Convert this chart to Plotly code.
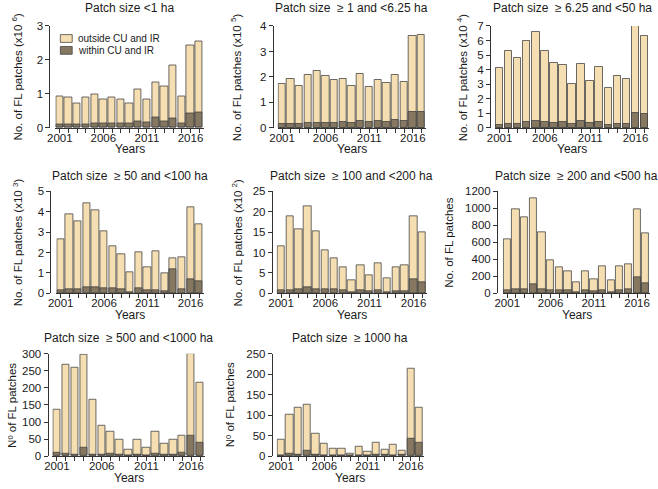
import plotly.graph_objects as go

W, H = 658, 489

years = list(range(2001, 2018))

# Panel 1: < 1 ha (x10^6)
p1_total = [0.92, 0.90, 0.71, 0.90, 0.99, 0.83, 0.88, 0.83, 0.72, 1.13, 0.84, 1.33, 1.22, 1.82, 0.92, 2.42, 2.53]
p1_within = [0.11, 0.11, 0.10, 0.11, 0.12, 0.12, 0.13, 0.13, 0.13, 0.19, 0.16, 0.30, 0.19, 0.29, 0.14, 0.43, 0.45]
# Panel 2: >=1 and <6.25 ha (x10^5)
p2_total = [1.72, 1.92, 1.66, 2.08, 2.24, 2.02, 1.89, 1.93, 1.65, 2.13, 1.60, 1.90, 1.78, 2.06, 1.80, 3.60, 3.64]
p2_within = [0.14, 0.16, 0.14, 0.18, 0.19, 0.19, 0.21, 0.22, 0.19, 0.27, 0.22, 0.26, 0.25, 0.30, 0.27, 0.64, 0.64]
# Panel 3: >=6.25 and <50 ha (x10^4)
p3_total = [4.14, 5.26, 4.77, 5.95, 6.60, 5.30, 4.47, 4.32, 3.02, 4.38, 3.20, 4.18, 2.71, 3.60, 3.38, 7.00, 6.33]
p3_within = [0.20, 0.25, 0.25, 0.38, 0.45, 0.38, 0.35, 0.40, 0.25, 0.45, 0.32, 0.38, 0.22, 0.30, 0.30, 1.05, 0.95]
# Panel 4: >=50 and <100 ha (x10^3)
p4_total = [2.65, 3.87, 3.51, 4.42, 4.07, 3.05, 2.30, 1.92, 1.04, 2.00, 1.25, 2.08, 1.00, 1.72, 1.75, 4.22, 3.40]
p4_within = [0.15, 0.18, 0.20, 0.30, 0.28, 0.25, 0.25, 0.20, 0.06, 0.25, 0.12, 0.15, 0.08, 1.15, 0.20, 0.68, 0.58]
# Panel 5: >=100 and <200 ha (x10^2)
p5_total = [11.4, 18.9, 15.8, 21.3, 15.2, 10.5, 8.6, 6.4, 3.2, 6.9, 4.3, 7.4, 3.6, 6.3, 6.9, 18.9, 15.0]
p5_within = [0.7, 0.7, 0.9, 1.4, 1.0, 0.9, 0.9, 0.7, 0.3, 0.7, 0.4, 0.7, 0.3, 0.5, 0.5, 3.5, 2.6]
# Panel 6: >=200 and <500 ha
p6_total = [630, 993, 894, 1123, 722, 390, 310, 256, 130, 256, 164, 321, 153, 321, 336, 986, 703]
p6_within = [40, 45, 45, 100, 45, 35, 35, 35, 12, 35, 20, 35, 15, 40, 45, 185, 120]
# Panel 7: >=500 and <1000 ha
p7_total = [137, 268, 258, 296, 165, 90, 73, 49, 20, 49, 26, 73, 35, 49, 60, 300, 214]
p7_within = [9, 6, 3, 26, 5, 3, 8, 3, 1, 5, 2, 8, 3, 3, 11, 60, 38]
# Panel 8: >=1000 ha
p8_total = [40, 102, 117, 125, 55, 31, 19, 18, 5, 23, 10, 32, 15, 27, 13, 213, 117]
p8_within = [1, 7, 3, 13, 4, 1, 1, 1, 0, 1, 1, 4, 3, 1, 4, 42, 32]

legend_labels = ["outside CU and IR", "within CU and IR"]

titles = [
    "Patch size &lt;1 ha",
    "Patch size  \u2265 1 and &lt;6.25 ha",
    "Patch size  \u2265 6.25 and &lt;50 ha",
    "Patch size  \u2265 50 and &lt;100 ha",
    "Patch size  \u2265 100 and &lt;200 ha",
    "Patch size  \u2265 200 and &lt;500 ha",
    "Patch size  \u2265 500 and &lt;1000 ha",
    "Patch size  \u2265 1000 ha",
]
ytitles = [
    "No. of FL patches (x10 <sup>6</sup>)",
    "No. of FL patches (x10 <sup>5</sup>)",
    "No. of FL patches (x10 <sup>4</sup>)",
    "No. of FL patches (x10 <sup>3</sup>)",
    "No. of FL patches (x10 <sup>2</sup>)",
    "No. of FL patches",
    "N\u00ba of FL patches",
    "N\u00ba of FL patches",
]
ymax = [3, 4, 7, 5, 25, 1200, 300, 250]
ydtick = [1, 1, 1, 1, 5, 200, 50, 50]
totals = [p1_total, p2_total, p3_total, p4_total, p5_total, p6_total, p7_total, p8_total]
withins = [p1_within, p2_within, p3_within, p4_within, p5_within, p6_within, p7_within, p8_within]

# layout geometry in pixels: (y-axis x, bars x0, bars x1, y of 0, y of top, ytitle x, title offset)
geom = [
    (42, 48, 198, 125, 20, 9, 18),
    (268, 273, 423, 125, 20.5, 231, 18),
    (488, 493, 649, 125, 20.5, 460, 18),
    (43, 49, 198, 294.5, 190, 10, 16),
    (267, 272, 424, 294.5, 190, 232, 16),
    (495, 501, 650, 294.5, 190, 447, 16),
    (40, 45, 199, 461.5, 356.5, 4, 16),
    (267, 272, 421, 461.5, 356.5, 225, 16),
]

LIGHT = "rgb(245,222,178)"
DARK = "rgb(134,120,96)"
EDGE = "rgba(60,60,60,0.75)"
FONT = "Arial, Liberation Sans, sans-serif"
TXT = "#1a1a1a"
FS = 12
TFS = 11.5

fig = go.Figure()
annotations = []
shapes = []
for i in range(8):
    ax = "" if i == 0 else str(i + 1)
    xa, x0, x1, y0, y1, ytx, toff = geom[i]
    fig.add_trace(go.Bar(
        x=years, y=totals[i], name=legend_labels[0], width=0.83,
        marker=dict(color=LIGHT, line=dict(color=EDGE, width=1)),
        xaxis="x" + ax, yaxis="y" + ax, showlegend=False,
    ))
    fig.add_trace(go.Bar(
        x=years, y=withins[i], name=legend_labels[1], width=0.83,
        marker=dict(color=DARK, line=dict(color=EDGE, width=1)),
        xaxis="x" + ax, yaxis="y" + ax, showlegend=False,
    ))
    fig.layout["xaxis" + ax] = dict(
        domain=[x0 / W, x1 / W], range=[2000.5, 2017.5], anchor="y" + ax,
        tick0=2001, dtick=5, ticks="outside", ticklen=4, tickcolor="#333",
        minor=dict(dtick=1, tick0=2001, ticks="outside", ticklen=4, tickcolor="#333"),
        showline=True, linecolor="#333", ticklabelstandoff=-5,
        showgrid=False, zeroline=False, tickfont=dict(size=TFS, color=TXT, family=FONT),
        fixedrange=True,
    )
    fig.layout["yaxis" + ax] = dict(
        domain=[1 - y0 / H, 1 - y1 / H], range=[0, ymax[i]], anchor="free", position=xa / W,
        tick0=0, dtick=ydtick[i], ticks="outside", ticklen=4, tickcolor="#333",
        showline=True, linecolor="#333", showgrid=False, zeroline=False,
        tickfont=dict(size=TFS, color=TXT, family=FONT), fixedrange=True,
    )
    xc = (x0 + x1) / 2
    annotations.append(dict(text=titles[i], x=xc / W, y=1 - (y1 - toff) / H, xref="paper", yref="paper",
                            showarrow=False, xanchor="center", yanchor="middle",
                            font=dict(size=FS, color=TXT, family=FONT)))
    annotations.append(dict(text="Years", x=xc / W, y=1 - (y0 + 22) / H, xref="paper", yref="paper",
                            showarrow=False, xanchor="center", yanchor="middle",
                            font=dict(size=FS, color=TXT, family=FONT)))
    annotations.append(dict(text=ytitles[i], x=ytx / W, y=1 - ((y0 + y1) / 2) / H, xref="paper", yref="paper",
                            showarrow=False, xanchor="center", yanchor="middle", textangle=-90,
                            font=dict(size=11.5, color=TXT, family=FONT)))

# legend (panel 1)
for k, (col, yc) in enumerate([(LIGHT, 33.3), (DARK, 45.5)]):
    shapes.append(dict(type="rect", xref="paper", yref="paper",
                       x0=53 / W, x1=65 / W, y0=1 - (yc + 4) / H, y1=1 - (yc - 4) / H,
                       fillcolor=col, line=dict(color=EDGE, width=1)))
    annotations.append(dict(text=legend_labels[k], x=69 / W, y=1 - yc / H, xref="paper", yref="paper",
                            showarrow=False, xanchor="left", yanchor="middle",
                            font=dict(size=10, color=TXT, family=FONT)))

fig.update_layout(
    width=W, height=H, margin=dict(l=0, r=0, t=0, b=0),
    plot_bgcolor="white", paper_bgcolor="white", barmode="overlay", bargap=0,
    annotations=annotations, shapes=shapes, showlegend=False,
    font=dict(family=FONT),
)
fig.write_html("out.html", config={"displayModeBar": False},
               post_script="document.body.style.margin='0';document.body.style.padding='0';")
